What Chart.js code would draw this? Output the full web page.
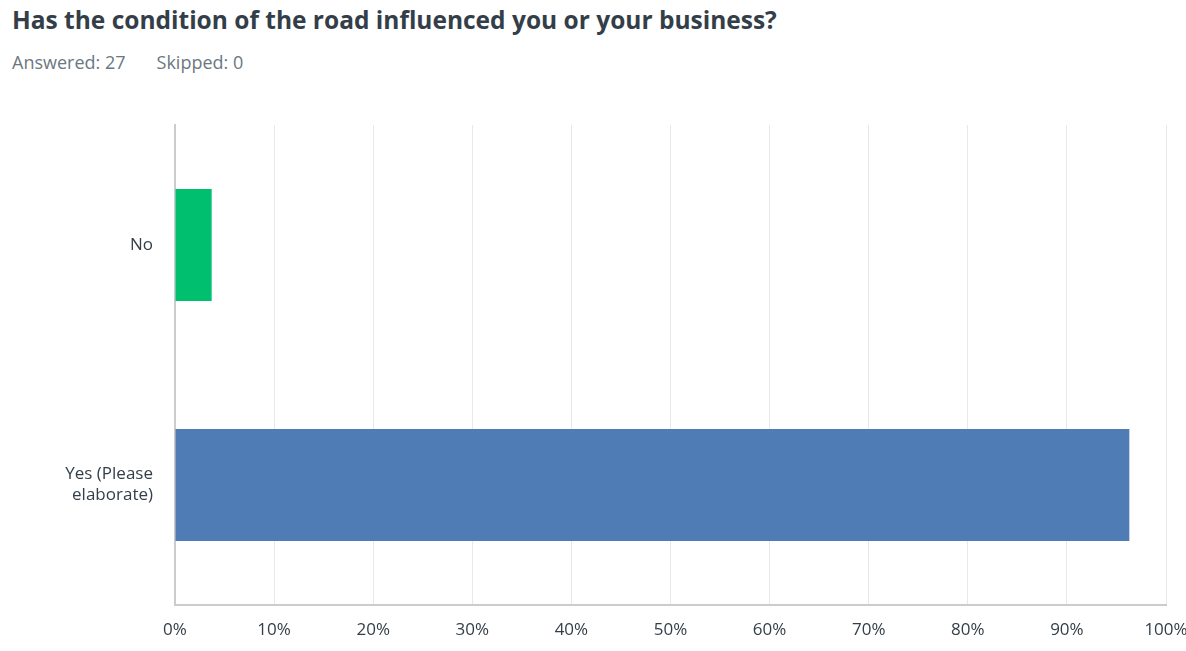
<!DOCTYPE html>
<html lang="en">
<head>
    <meta charset="UTF-8">
    <title>Has the condition of the road influenced you or your business?</title>
    <style>
        body {
            margin: 0;
            background: #fff;
            font-family: 'Open Sans', sans-serif;
            width: 1186px;
            height: 651px;
            position: relative;
            overflow: hidden;
        }
        .title {
            position: absolute;
            left: 12px;
            top: 3px;
            font-size: 24.5px;
            font-weight: bold;
            color: #333e48;
        }
        .stats {
            position: absolute;
            left: 12px;
            top: 50px;
            font-size: 18px;
            color: #6b787f;
        }
        .stats span { margin-right: 31px; }
        .chart-box {
            position: absolute;
            left: 0;
            top: 110px;
            width: 1186px;
            height: 541px;
        }
    </style>
    <script src="https://cdn.jsdelivr.net/npm/chart.js"></script>
</head>
<body>
    <div class="title">Has the condition of the road influenced you or your business?</div>
    <div class="stats"><span>Answered: 27</span><span>Skipped: 0</span></div>
    <div class="chart-box"><canvas id="chart"></canvas></div>

    <script>
        const categories = ['No', ['Yes (Please', 'elaborate)']];
        const percents = [3.70, 96.30];
        const barColors = ['#00bf6f', '#507cb6'];

        const ctx = document.getElementById('chart').getContext('2d');
        new Chart(ctx, {
            type: 'bar',
            data: {
                labels: categories,
                datasets: [{
                    data: percents,
                    backgroundColor: barColors,
                    borderWidth: 0,
                    barPercentage: 0.467,
                    categoryPercentage: 1
                }]
            },
            options: {
                indexAxis: 'y',
                responsive: true,
                maintainAspectRatio: false,
                animation: false,
                layout: { padding: { top: 15, right: 20, left: 0, bottom: 0 } },
                plugins: {
                    legend: { display: false },
                    tooltip: { enabled: false }
                },
                scales: {
                    x: {
                        min: 0,
                        max: 100,
                        ticks: {
                            stepSize: 10,
                            color: '#333e48',
                            font: { family: 'Open Sans', size: 17 },
                            padding: 15,
                            callback: v => v + '%'
                        },
                        grid: { color: '#e8e8e8', drawTicks: false },
                        border: { color: '#cccccc', width: 2 },
                        afterFit: s => {
                            s.height = 46;
                            s.paddingLeft = 0;
                            s.paddingRight = 0;
                        }
                    },
                    y: {
                        ticks: {
                            color: '#333e48',
                            font: { family: 'Open Sans', size: 17, lineHeight: 1.25 },
                            padding: 22
                        },
                        grid: { display: false, drawTicks: false },
                        border: { color: '#cccccc', width: 2 },
                        afterFit: s => {
                            s.width = 175;
                            s.paddingTop = 0;
                            s.paddingBottom = 0;
                        }
                    }
                }
            }
        });
    </script>
</body>
</html>
